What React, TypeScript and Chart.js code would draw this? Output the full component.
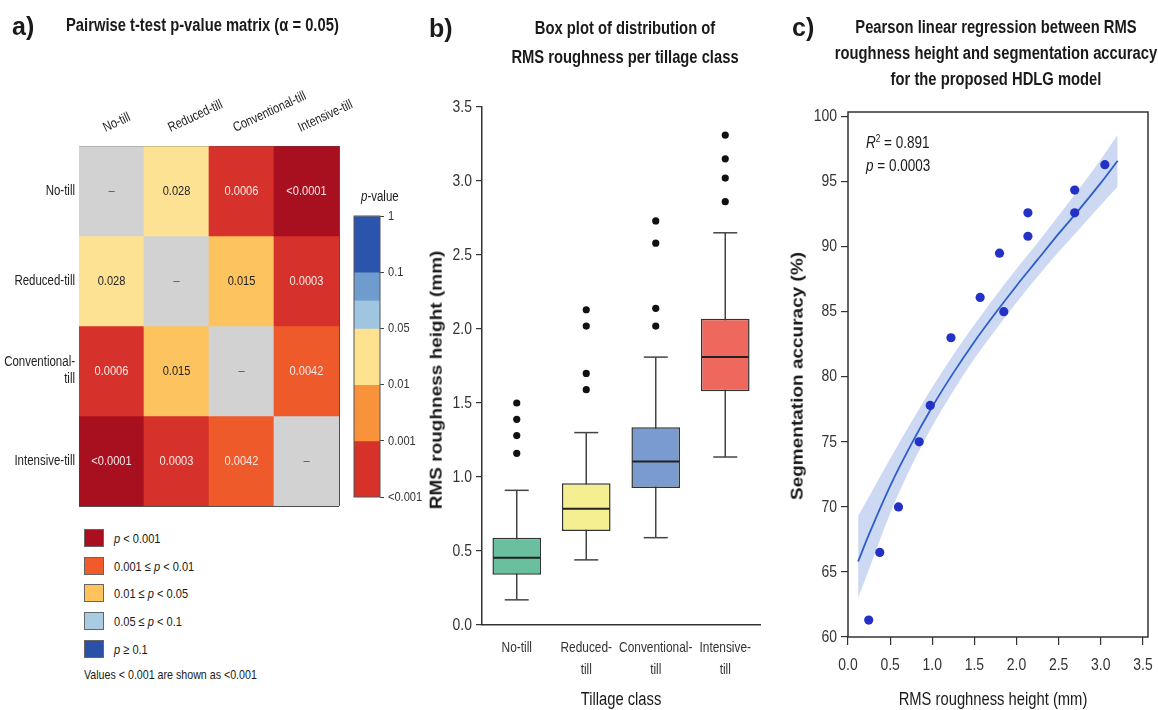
import React, { useEffect, useRef } from 'react';
import { Chart, registerables } from 'chart.js';

Chart.register(...registerables);

const SANS = "'Liberation Sans', Arial, Helvetica, sans-serif";
const SQUEEZE = 0.82; // narrow (condensed) look of the original typeface

Chart.defaults.font.family = SANS;
Chart.defaults.color = '#222';

// ---------------- Panel a: pairwise p-value matrix ----------------
const tillageColumns = ['No-till', 'Reduced-till', 'Conventional-till', 'Intensive-till'];
const tillageRows: (string | string[])[] = ['No-till', 'Reduced-till', ['Conventional-', 'till'], 'Intensive-till'];
const pValues: (number | null)[][] = [
  [null, 0.028, 0.0006, 0.00005],
  [0.028, null, 0.015, 0.0003],
  [0.0006, 0.015, null, 0.0042],
  [0.00005, 0.0003, 0.0042, null],
];
const pValueLabels: string[][] = [
  ['–', '0.028', '0.0006', '<0.0001'],
  ['0.028', '–', '0.015', '0.0003'],
  ['0.0006', '0.015', '–', '0.0042'],
  ['<0.0001', '0.0003', '0.0042', '–'],
];
const colorbarTickLabels = ['1', '0.1', '0.05', '0.01', '0.001', '<0.001'];
const colorbarBands: [number, number][] = [[0, 1], [1, 1.5], [1.5, 2], [2, 3], [3, 4], [4, 5]];
const colorbarColors = ['#2b55ad', '#6e9dcd', '#9fc5e1', '#fee290', '#f8923b', '#d7322a'];
const legendColors = ['#a90f1f', '#f15a2b', '#fdc35d', '#a8cde3', '#2a50a8'];
const legendTexts: [string, string][] = [
  ['', ' < 0.001'],
  ['0.001 ≤ ', ' < 0.01'],
  ['0.01 ≤ ', ' < 0.05'],
  ['0.05 ≤ ', ' < 0.1'],
  ['', ' ≥ 0.1'],
];

function cellColor(p: number | null): string {
  if (p === null) return '#d2d2d2';
  if (p < 0.0001) return '#a80f1f';
  if (p < 0.001) return '#d6312a';
  if (p < 0.01) return '#ef5a2b';
  if (p < 0.02) return '#fdc35e';
  return '#fee293';
}
function cellTextColor(p: number | null): string {
  if (p === null) return '#555';
  if (p < 0.01) return '#fbe8e6';
  return '#222';
}

// ---------------- Panel b: box plot ----------------
const boxCategories: (string | string[])[] = ['No-till', ['Reduced-', 'till'], ['Conventional-', 'till'], ['Intensive-', 'till']];
const whiskerLow = [0.17, 0.44, 0.59, 1.135];
const quartile1 = [0.34, 0.635, 0.925, 1.58];
const medianValues = [0.455, 0.785, 1.105, 1.81];
const quartile3 = [0.59, 0.957, 1.336, 2.07];
const whiskerHigh = [0.91, 1.3, 1.81, 2.65];
const outlierValues = [
  [1.16, 1.28, 1.39, 1.5],
  [1.59, 1.7, 2.02, 2.13],
  [2.02, 2.14, 2.58, 2.73],
  [2.86, 3.02, 3.15, 3.31],
];
const boxColors = ['#6abf9f', '#f6ef92', '#7a9bd0', '#ef685e'];
const roughnessTicks = [0, 0.5, 1, 1.5, 2, 2.5, 3, 3.5];

// ---------------- Panel c: regression ----------------
const rmsHeight = [0.246, 0.377, 0.599, 0.845, 0.976, 1.222, 1.568, 1.798, 1.849, 2.135, 2.135, 2.69, 2.69, 3.048];
const segAccuracy = [61.3, 66.5, 70.0, 75.0, 77.8, 83.0, 86.1, 89.5, 85.0, 90.8, 92.6, 94.35, 92.6, 96.3];
const fitX = [0.12, 0.25, 0.5, 0.75, 1.0, 1.25, 1.5, 1.75, 2.0, 2.25, 2.5, 2.75, 3.0, 3.2];
const fitY = [65.8, 67.9, 71.6, 74.8, 77.7, 80.3, 82.7, 84.9, 87.0, 89.0, 91.0, 92.9, 94.9, 96.6];
const bandUpper = [69.3, 70.8, 73.7, 76.5, 79.2, 81.7, 84.0, 86.2, 88.3, 90.3, 92.4, 94.5, 96.7, 98.6];
const bandLower = [63.0, 65.2, 69.5, 73.1, 76.2, 78.9, 81.4, 83.6, 85.7, 87.7, 89.6, 91.4, 93.2, 94.6];
const heightTicks = [0, 0.5, 1, 1.5, 2, 2.5, 3, 3.5];
const accuracyTicks = [60, 65, 70, 75, 80, 85, 90, 95, 100];

// ---------------- plugins ----------------
const framePlugin = {
  id: 'frame',
  afterDraw(chart: any, _args: any, opts: any) {
    if (!opts || !opts.color) return;
    const { left, top, right, bottom } = chart.chartArea;
    const ctx = chart.ctx;
    ctx.save();
    ctx.strokeStyle = opts.color;
    ctx.lineWidth = opts.width || 1;
    ctx.strokeRect(left, top, right - left, bottom - top);
    ctx.restore();
  },
};

// Draws the tick labels of the chart's own scales in a condensed face (at the scale's tick pixels).
type TickSpec = {
  id: string;
  text: (value: number, index: number) => string | string[];
  size: number;
  gap: number;
  color?: string;
  lineHeight?: number;
  rotate?: number;
  dx?: number;
};
const condTicksPlugin = {
  id: 'condTicks',
  afterDraw(chart: any, _args: any, opts: any) {
    const ctx = chart.ctx;
    const area = chart.chartArea;
    (opts.specs || []).forEach((spec: TickSpec) => {
      const scale = chart.scales[spec.id];
      if (!scale) return;
      const pos = scale.options.position;
      const lh = spec.lineHeight || spec.size * 1.2;
      ctx.save();
      ctx.fillStyle = spec.color || '#333';
      ctx.font = `${spec.size}px ${SANS}`;
      scale.ticks.forEach((t: any, i: number) => {
        const label = spec.text(t.value, i);
        const lines = Array.isArray(label) ? label : [label];
        const p = scale.getPixelForTick(i);
        ctx.save();
        if (pos === 'left' || pos === 'right') {
          ctx.translate(pos === 'left' ? area.left - spec.gap : area.right + spec.gap, p);
          ctx.scale(SQUEEZE, 1);
          ctx.textAlign = pos === 'left' ? 'right' : 'left';
          ctx.textBaseline = 'middle';
          const y0 = (-(lines.length - 1) * lh) / 2;
          lines.forEach((ln, k) => ctx.fillText(ln, 0, y0 + k * lh));
        } else if (pos === 'bottom') {
          ctx.translate(p, area.bottom + spec.gap);
          ctx.scale(SQUEEZE, 1);
          ctx.textAlign = 'center';
          ctx.textBaseline = 'middle';
          lines.forEach((ln, k) => ctx.fillText(ln, 0, lh / 2 + k * lh));
        } else {
          ctx.translate(p + (spec.dx || 0), area.top - spec.gap);
          ctx.rotate((-(spec.rotate || 0) * Math.PI) / 180);
          ctx.scale(SQUEEZE, 1);
          ctx.textAlign = 'left';
          ctx.textBaseline = 'alphabetic';
          lines.forEach((ln, k) => ctx.fillText(ln, 0, -(lines.length - 1 - k) * lh));
        }
        ctx.restore();
      });
      ctx.restore();
    });
  },
};

const cellTextPlugin = {
  id: 'cellText',
  afterDatasetsDraw(chart: any) {
    const ctx = chart.ctx;
    ctx.save();
    ctx.font = `13.5px ${SANS}`;
    ctx.textAlign = 'center';
    ctx.textBaseline = 'middle';
    pValues.forEach((row, r) => {
      const meta = chart.getDatasetMeta(r);
      row.forEach((p, c) => {
        const el = meta.data[c];
        if (!el) return;
        const { x, y, base } = el.getProps(['x', 'y', 'base'], true);
        ctx.save();
        ctx.translate(x, (y + base) / 2);
        ctx.scale(SQUEEZE, 1);
        ctx.fillStyle = cellTextColor(p);
        ctx.fillText(pValueLabels[r][c], 0, 0);
        ctx.restore();
      });
    });
    ctx.restore();
  },
};

const baseOpts = {
  responsive: false,
  maintainAspectRatio: false,
  animation: false as const,
  events: [] as any[],
};

function fixSize(dim: 'width' | 'height', v: number) {
  return (s: any) => {
    s[dim] = v;
    s.paddingLeft = 0;
    s.paddingRight = 0;
    s.paddingTop = 0;
    s.paddingBottom = 0;
  };
}

function makeHeatmap(): any {
  return {
    type: 'bar',
    data: {
      labels: tillageColumns,
      datasets: pValues.map((row, r) => ({
        label: tillageColumns[r],
        data: row.map(() => [r, r + 1]),
        backgroundColor: row.map(cellColor),
        borderWidth: 0,
        grouped: false,
        barPercentage: 1,
        categoryPercentage: 1,
        xAxisID: 'x',
        yAxisID: 'y',
      })),
    },
    options: {
      ...baseOpts,
      layout: { padding: { right: 41, bottom: 2 }, autoPadding: false },
      plugins: {
        legend: { display: false },
        tooltip: { enabled: false },
        condTicks: {
          specs: [
            { id: 'x', text: (_v: number, i: number) => tillageColumns[i], size: 13.5, gap: 14, rotate: 25, dx: -6, color: '#222' },
            { id: 'rows', text: (_v: number, i: number) => tillageRows[i], size: 14, gap: 4, lineHeight: 17, color: '#222' },
          ],
        },
      },
      scales: {
        x: {
          type: 'category',
          position: 'top',
          offset: true,
          grid: { display: true, offset: true, color: '#505050', lineWidth: 1, drawTicks: false },
          border: { display: false },
          ticks: { display: false, autoSkip: false },
          z: 1,
          afterFit: fixSize('height', 146),
        },
        y: {
          type: 'linear',
          axis: 'y',
          position: 'left',
          min: 0,
          max: 4,
          reverse: true,
          ticks: { display: false, stepSize: 1 },
          grid: { color: '#505050', lineWidth: 1, drawTicks: false },
          border: { display: false },
          z: 1,
          afterFit: fixSize('width', 0),
        },
        rows: {
          type: 'category',
          axis: 'y',
          position: 'left',
          labels: tillageRows,
          offset: true,
          grid: { display: false, drawTicks: false },
          border: { display: false },
          ticks: { display: false, autoSkip: false },
          afterFit: fixSize('width', 79),
        },
      },
    },
    plugins: [cellTextPlugin, condTicksPlugin],
  };
}

function makeColorbar(): any {
  return {
    type: 'bar',
    data: {
      labels: [''],
      datasets: colorbarBands.map((b, i) => ({
        data: [b],
        backgroundColor: colorbarColors[i],
        borderWidth: 0,
        grouped: false,
        barPercentage: 1,
        categoryPercentage: 1,
      })),
    },
    options: {
      ...baseOpts,
      layout: { padding: { left: 14, top: 16, bottom: 10 }, autoPadding: false },
      plugins: {
        legend: { display: false },
        tooltip: { enabled: false },
        frame: { color: '#555', width: 1 },
        condTicks: {
          specs: [{ id: 'y', text: (_v: number, i: number) => colorbarTickLabels[i], size: 13.5, gap: 8, color: '#333' }],
        },
      },
      scales: {
        x: { display: false },
        y: {
          position: 'right',
          min: 0,
          max: 5,
          reverse: true,
          afterBuildTicks: (s: any) => { s.ticks = colorbarTickLabels.map((_, i) => ({ value: i })); },
          ticks: { display: false },
          grid: { drawOnChartArea: false, tickLength: 4, color: '#444' },
          border: { display: false },
          afterFit: fixSize('width', 60),
        },
      },
    },
    plugins: [framePlugin, condTicksPlugin],
  };
}

function makeBoxplot(): any {
  const idx = boxCategories.map((_, i) => i);
  return {
    type: 'bar',
    data: {
      datasets: [
        {
          type: 'line',
          label: 'whiskers',
          data: idx.flatMap((i) => [{ x: i, y: whiskerLow[i] }, { x: i, y: whiskerHigh[i] }, { x: i, y: null }]),
          borderColor: '#444',
          borderWidth: 1.5,
          pointRadius: 0,
          spanGaps: false,
          fill: false,
          order: 4,
        },
        {
          type: 'bar',
          label: 'IQR',
          data: idx.map((i) => ({ x: i, y: [quartile1[i], quartile3[i]] })),
          backgroundColor: boxColors,
          borderColor: '#333',
          borderWidth: 1.5,
          borderSkipped: false,
          barPercentage: 0.7,
          categoryPercentage: 1,
          order: 3,
        },
        {
          type: 'line',
          label: 'caps',
          data: idx.flatMap((i) => [{ x: i, y: whiskerLow[i] }, { x: i, y: whiskerHigh[i] }]),
          showLine: false,
          pointStyle: 'line',
          pointRadius: 12,
          pointBorderWidth: 1.5,
          pointBorderColor: '#444',
          order: 2,
        },
        {
          type: 'line',
          label: 'median',
          data: idx.map((i) => ({ x: i, y: medianValues[i] })),
          showLine: false,
          pointStyle: 'line',
          pointRadius: 23.5,
          pointBorderWidth: 2,
          pointBorderColor: '#222',
          order: 1,
        },
        {
          type: 'line',
          label: 'outliers',
          data: idx.flatMap((i) => outlierValues[i].map((v) => ({ x: i, y: v }))),
          showLine: false,
          pointStyle: 'circle',
          pointRadius: 3.6,
          pointBackgroundColor: '#111',
          pointBorderWidth: 0,
          order: 0,
        },
      ],
    },
    options: {
      ...baseOpts,
      layout: { padding: { top: 12, right: 5 }, autoPadding: false },
      plugins: {
        legend: { display: false },
        tooltip: { enabled: false },
        condTicks: {
          specs: [
            { id: 'x', text: (_v: number, i: number) => boxCategories[i], size: 14.5, gap: 12, lineHeight: 22, color: '#333' },
            { id: 'y', text: (v: number) => Number(v).toFixed(1), size: 17, gap: 10, color: '#333' },
          ],
        },
      },
      scales: {
        x: {
          type: 'linear',
          min: -0.5,
          max: 3.5,
          offset: false,
          afterBuildTicks: (s: any) => { s.ticks = idx.map((v) => ({ value: v })); },
          ticks: { display: false },
          grid: { display: false, drawTicks: false },
          border: { display: true, color: '#333', width: 1.5 },
          afterFit: fixSize('height', 85),
        },
        y: {
          type: 'linear',
          min: 0,
          max: 3.5,
          afterBuildTicks: (s: any) => { s.ticks = roughnessTicks.map((v) => ({ value: v })); },
          ticks: { display: false },
          grid: { drawOnChartArea: false, tickLength: 6, color: '#333', lineWidth: 1.2 },
          border: { display: true, color: '#333', width: 1.5 },
          afterFit: fixSize('width', 62),
        },
      },
    },
    plugins: [condTicksPlugin],
  };
}

function makeRegression(): any {
  return {
    type: 'scatter',
    data: {
      datasets: [
        {
          type: 'line',
          label: 'CI upper',
          data: fitX.map((x, i) => ({ x, y: bandUpper[i] })),
          borderColor: 'transparent',
          borderWidth: 0,
          pointRadius: 0,
          fill: false,
          cubicInterpolationMode: 'monotone',
          order: 3,
        },
        {
          type: 'line',
          label: 'CI lower',
          data: fitX.map((x, i) => ({ x, y: bandLower[i] })),
          borderColor: 'transparent',
          borderWidth: 0,
          pointRadius: 0,
          fill: '-1',
          backgroundColor: 'rgba(72,110,212,0.27)',
          cubicInterpolationMode: 'monotone',
          order: 2,
        },
        {
          type: 'line',
          label: 'fit',
          data: fitX.map((x, i) => ({ x, y: fitY[i] })),
          borderColor: '#2d5ec8',
          borderWidth: 1.8,
          pointRadius: 0,
          fill: false,
          cubicInterpolationMode: 'monotone',
          order: 1,
        },
        {
          type: 'scatter',
          label: 'samples',
          data: rmsHeight.map((x, i) => ({ x, y: segAccuracy[i] })),
          pointRadius: 4.6,
          backgroundColor: '#2331c4',
          borderWidth: 0,
          order: 0,
        },
      ],
    },
    options: {
      ...baseOpts,
      layout: { padding: { top: 12, right: 10 }, autoPadding: false },
      plugins: {
        legend: { display: false },
        tooltip: { enabled: false },
        frame: { color: '#333', width: 1.5 },
        condTicks: {
          specs: [
            { id: 'x', text: (v: number) => Number(v).toFixed(1), size: 17, gap: 18, lineHeight: 20, color: '#333' },
            { id: 'y', text: (v: number) => String(v), size: 17, gap: 11, color: '#333' },
          ],
        },
      },
      scales: {
        x: {
          type: 'linear',
          min: 0,
          max: 3.56,
          afterBuildTicks: (s: any) => { s.ticks = heightTicks.map((v) => ({ value: v })); },
          ticks: { display: false },
          grid: { drawOnChartArea: false, tickLength: 8, color: '#333', lineWidth: 1.2 },
          border: { display: false },
          afterFit: fixSize('height', 73),
        },
        y: {
          type: 'linear',
          min: 60,
          max: 100.35,
          afterBuildTicks: (s: any) => { s.ticks = accuracyTicks.map((v) => ({ value: v })); },
          ticks: { display: false },
          grid: { drawOnChartArea: false, tickLength: 7, color: '#333', lineWidth: 1.2 },
          border: { display: false },
          afterFit: fixSize('width', 68),
        },
      },
    },
    plugins: [framePlugin, condTicksPlugin],
  };
}

// ---------------- components ----------------
function ChartCanvas({ left, top, width, height, make }: { left: number; top: number; width: number; height: number; make: () => any }) {
  const ref = useRef<HTMLCanvasElement>(null);
  useEffect(() => {
    const chart = new Chart(ref.current as HTMLCanvasElement, make());
    return () => chart.destroy();
  }, []);
  return <canvas ref={ref} width={width} height={height} style={{ position: 'absolute', left, top, width, height }} />;
}

type TxtProps = {
  x: number;
  y: number;
  size: number;
  bold?: boolean;
  center?: boolean;
  wide?: boolean;
  color?: string;
  children: React.ReactNode;
};
function Txt({ x, y, size, bold, center, wide, color = '#1a1a1a', children }: TxtProps) {
  const lh = Math.round(size * 1.4);
  const sq = wide ? '' : ` scaleX(${SQUEEZE})`;
  return (
    <div
      style={{
        position: 'absolute',
        left: x,
        top: y - lh / 2,
        transform: center ? `translateX(-50%)${sq}` : sq || undefined,
        transformOrigin: center ? '50% 50%' : '0% 50%',
        lineHeight: `${lh}px`,
        fontSize: size,
        fontWeight: bold ? 700 : 400,
        fontFamily: SANS,
        whiteSpace: 'nowrap',
        color,
      }}
    >
      {children}
    </div>
  );
}

function VTxt({ x, y, size, children }: { x: number; y: number; size: number; children: React.ReactNode }) {
  return (
    <div
      style={{
        position: 'absolute',
        left: x,
        top: y,
        transform: `translate(-50%, -50%) rotate(-90deg) scaleY(${SQUEEZE})`,
        fontSize: size,
        fontWeight: 700,
        fontFamily: SANS,
        whiteSpace: 'nowrap',
        lineHeight: 1.2,
        color: '#1a1a1a',
      }}
    >
      {children}
    </div>
  );
}

const legendTops = [529, 557, 584, 612, 640];

export default function App() {
  return (
    <div style={{ position: 'absolute', left: 0, top: 0, width: 1158, height: 710, background: '#fff', overflow: 'hidden', fontFamily: SANS }}>
      <ChartCanvas left={0} top={0} width={380} height={508} make={makeHeatmap} />
      <ChartCanvas left={340} top={200} width={100} height={307} make={makeColorbar} />
      <ChartCanvas left={420} top={95} width={345} height={615} make={makeBoxplot} />
      <ChartCanvas left={780} top={100} width={378} height={610} make={makeRegression} />

      {/* Panel a texts */}
      <Txt x={12} y={26} size={25} bold wide>a)</Txt>
      <Txt x={66} y={25} size={18} bold>Pairwise t-test p-value matrix (α = 0.05)</Txt>
      <Txt x={361} y={196} size={14}><i>p</i>-value</Txt>
      {legendTexts.map((t, i) => (
        <React.Fragment key={i}>
          <div style={{ position: 'absolute', left: 84, top: legendTops[i], width: 20, height: 18, boxSizing: 'border-box', background: legendColors[i], border: '1px solid #666' }} />
          <Txt x={114} y={legendTops[i] + 9} size={13.5}>
            {t[0]}<i>p</i>{t[1]}
          </Txt>
        </React.Fragment>
      ))}
      <Txt x={84} y={675} size={13}>Values &lt; 0.001 are shown as &lt;0.001</Txt>

      {/* Panel b texts */}
      <Txt x={429} y={28} size={25} bold wide>b)</Txt>
      <Txt x={625} y={28.5} size={18} bold center>Box plot of distribution of</Txt>
      <Txt x={625} y={57} size={18} bold center>RMS roughness per tillage class</Txt>
      <VTxt x={437} y={380} size={19}>RMS roughness height (mm)</VTxt>
      <Txt x={621} y={699} size={18} center>Tillage class</Txt>

      {/* Panel c texts */}
      <Txt x={792} y={27} size={25} bold wide>c)</Txt>
      <Txt x={996} y={27} size={18} bold center>Pearson linear regression between RMS</Txt>
      <Txt x={996} y={53} size={18} bold center>roughness height and segmentation accuracy</Txt>
      <Txt x={996} y={79} size={18} bold center>for the proposed HDLG model</Txt>
      <VTxt x={798} y={376} size={19}>Segmentation accuracy (%)</VTxt>
      <Txt x={993} y={699} size={18} center>RMS roughness height (mm)</Txt>
      <Txt x={866} y={142} size={16.5}>
        <i>R</i><span style={{ fontSize: 10, position: 'relative', top: -6 }}>2</span> = 0.891
      </Txt>
      <Txt x={866} y={165} size={16.5}>
        <i>p</i> = 0.0003
      </Txt>
    </div>
  );
}
